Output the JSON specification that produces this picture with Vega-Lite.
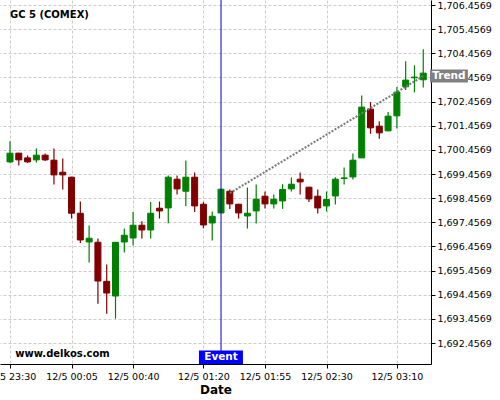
{
  "$schema": "https://vega.github.io/schema/vega-lite/v6.json",
  "width": 431,
  "height": 364,
  "autosize": {"type": "none"},
  "padding": {"left": 0, "top": 0, "right": 69, "bottom": 36},
  "background": "white",
  "config": {
    "view": {"stroke": null},
    "font": "DejaVu Sans",
    "axis": {
      "gridColor": "#cccccc",
      "gridDash": [3, 2],
      "gridWidth": 1,
      "domainColor": "#000000",
      "domainWidth": 1,
      "tickColor": "#000000",
      "labelColor": "#000000",
      "labelFont": "DejaVu Sans",
      "labelFontSize": 9.5,
      "titleFont": "DejaVu Sans"
    }
  },
  "datasets": {
    "candles": [
      {"t": "2024-12-04T23:30:00", "o": 1699.960, "h": 1700.818, "l": 1699.919, "c": 1700.321},
      {"t": "2024-12-04T23:35:00", "o": 1700.321, "h": 1700.342, "l": 1699.811, "c": 1700.043},
      {"t": "2024-12-04T23:40:00", "o": 1700.126, "h": 1700.225, "l": 1699.919, "c": 1699.960},
      {"t": "2024-12-04T23:45:00", "o": 1700.043, "h": 1700.516, "l": 1699.935, "c": 1700.238},
      {"t": "2024-12-04T23:50:00", "o": 1700.238, "h": 1700.308, "l": 1700.001, "c": 1700.043},
      {"t": "2024-12-04T23:55:00", "o": 1700.031, "h": 1700.516, "l": 1699.023, "c": 1699.421},
      {"t": "2024-12-05T00:00:00", "o": 1699.533, "h": 1700.101, "l": 1698.816, "c": 1699.421},
      {"t": "2024-12-05T00:05:00", "o": 1699.326, "h": 1699.347, "l": 1697.613, "c": 1697.833},
      {"t": "2024-12-05T00:10:00", "o": 1697.833, "h": 1698.318, "l": 1696.602, "c": 1696.726},
      {"t": "2024-12-05T00:15:00", "o": 1696.643, "h": 1697.323, "l": 1695.789, "c": 1696.797},
      {"t": "2024-12-05T00:20:00", "o": 1696.631, "h": 1696.784, "l": 1694.089, "c": 1695.026},
      {"t": "2024-12-05T00:25:00", "o": 1695.014, "h": 1695.706, "l": 1693.675, "c": 1694.529},
      {"t": "2024-12-05T00:30:00", "o": 1694.405, "h": 1696.631, "l": 1693.468, "c": 1696.631},
      {"t": "2024-12-05T00:35:00", "o": 1696.643, "h": 1697.199, "l": 1696.204, "c": 1696.921},
      {"t": "2024-12-05T00:40:00", "o": 1696.809, "h": 1697.887, "l": 1696.494, "c": 1697.336},
      {"t": "2024-12-05T00:45:00", "o": 1697.336, "h": 1697.502, "l": 1696.784, "c": 1697.141},
      {"t": "2024-12-05T00:50:00", "o": 1697.141, "h": 1698.302, "l": 1696.784, "c": 1697.833},
      {"t": "2024-12-05T00:55:00", "o": 1698.041, "h": 1698.318, "l": 1697.613, "c": 1697.929},
      {"t": "2024-12-05T01:00:00", "o": 1698.053, "h": 1699.396, "l": 1697.419, "c": 1699.326},
      {"t": "2024-12-05T01:05:00", "o": 1699.243, "h": 1699.396, "l": 1698.609, "c": 1698.841},
      {"t": "2024-12-05T01:10:00", "o": 1698.745, "h": 1700.018, "l": 1698.123, "c": 1699.326},
      {"t": "2024-12-05T01:15:00", "o": 1699.326, "h": 1699.521, "l": 1697.887, "c": 1698.136},
      {"t": "2024-12-05T01:20:00", "o": 1698.206, "h": 1698.302, "l": 1697.211, "c": 1697.348},
      {"t": "2024-12-05T01:25:00", "o": 1697.431, "h": 1697.904, "l": 1696.701, "c": 1697.709},
      {"t": "2024-12-05T01:30:00", "o": 1697.846, "h": 1698.849, "l": 1697.833, "c": 1698.828},
      {"t": "2024-12-05T01:35:00", "o": 1698.745, "h": 1698.816, "l": 1698.012, "c": 1698.219},
      {"t": "2024-12-05T01:40:00", "o": 1698.206, "h": 1698.227, "l": 1697.613, "c": 1697.846},
      {"t": "2024-12-05T01:45:00", "o": 1697.721, "h": 1698.899, "l": 1697.199, "c": 1697.833},
      {"t": "2024-12-05T01:50:00", "o": 1697.929, "h": 1699.023, "l": 1697.406, "c": 1698.414},
      {"t": "2024-12-05T01:55:00", "o": 1698.538, "h": 1698.733, "l": 1698.028, "c": 1698.219},
      {"t": "2024-12-05T02:00:00", "o": 1698.219, "h": 1698.609, "l": 1698.028, "c": 1698.414},
      {"t": "2024-12-05T02:05:00", "o": 1698.343, "h": 1699.036, "l": 1698.012, "c": 1698.816},
      {"t": "2024-12-05T02:10:00", "o": 1698.841, "h": 1699.313, "l": 1698.733, "c": 1699.036},
      {"t": "2024-12-05T02:15:00", "o": 1699.243, "h": 1699.521, "l": 1698.609, "c": 1699.131},
      {"t": "2024-12-05T02:20:00", "o": 1698.911, "h": 1698.932, "l": 1698.302, "c": 1698.426},
      {"t": "2024-12-05T02:25:00", "o": 1698.538, "h": 1698.816, "l": 1697.821, "c": 1698.053},
      {"t": "2024-12-05T02:30:00", "o": 1698.136, "h": 1698.733, "l": 1697.904, "c": 1698.401},
      {"t": "2024-12-05T02:35:00", "o": 1698.550, "h": 1699.326, "l": 1698.194, "c": 1699.243},
      {"t": "2024-12-05T02:40:00", "o": 1699.272, "h": 1699.728, "l": 1699.023, "c": 1699.297},
      {"t": "2024-12-05T02:45:00", "o": 1699.338, "h": 1700.308, "l": 1699.230, "c": 1700.031},
      {"t": "2024-12-05T02:50:00", "o": 1700.126, "h": 1702.713, "l": 1700.126, "c": 1702.228},
      {"t": "2024-12-05T02:55:00", "o": 1702.145, "h": 1702.435, "l": 1701.121, "c": 1701.370},
      {"t": "2024-12-05T03:00:00", "o": 1701.440, "h": 1701.647, "l": 1700.914, "c": 1701.162},
      {"t": "2024-12-05T03:05:00", "o": 1701.245, "h": 1702.021, "l": 1701.225, "c": 1701.855},
      {"t": "2024-12-05T03:10:00", "o": 1701.867, "h": 1703.057, "l": 1701.345, "c": 1702.850},
      {"t": "2024-12-05T03:15:00", "o": 1703.070, "h": 1704.123, "l": 1702.933, "c": 1703.347},
      {"t": "2024-12-05T03:20:00", "o": 1703.443, "h": 1703.957, "l": 1702.837, "c": 1703.472},
      {"t": "2024-12-05T03:25:00", "o": 1703.360, "h": 1704.620, "l": 1703.045, "c": 1703.637}
    ],
    "trend": [
      {"t": "2024-12-05T01:35:00", "v": 1698.663},
      {"t": "2024-12-05T03:25:00", "v": 1703.513}
    ],
    "event": [
      {"t": "2024-12-05T01:30:00", "label": "Event", "t0": "2024-12-05T01:17:27", "t1": "2024-12-05T01:42:28", "v": 1691.863, "v0": 1691.59, "v1": 1692.154}
    ],
    "trendlabel": [
      {"t": "2024-12-05T03:39:36", "label": "Trend", "t0": "2024-12-05T03:28:48", "t1": "2024-12-05T03:50:24", "v": 1703.522, "v0": 1703.252, "v1": 1703.791}
    ],
    "notes": [
      {"t": "2024-12-04T23:30:00", "v": 1706.042, "label": "GC 5 (COMEX)"},
      {"t": "2024-12-04T23:33:00", "v": 1691.987, "label": "www.delkos.com"}
    ]
  },
  "layer": [
    {
      "data": {"name": "candles"},
      "mark": {"type": "rule", "strokeWidth": 1.2},
      "encoding": {
        "x": {
          "field": "t",
          "type": "temporal",
          "scale": {
            "nice": false,
            "padding": 0,
            "domain": [
              {"year": 2024, "month": 12, "date": 4, "hours": 23, "minutes": 24, "seconds": 19},
              {"year": 2024, "month": 12, "date": 5, "hours": 3, "minutes": 29, "seconds": 24}
            ]
          },
          "axis": {
            "title": "Date",
            "titleFontSize": 12,
            "titleFontWeight": "bold",
            "titleColor": "#000000",
            "titlePadding": 4,
            "tickCount": 20,
            "values": [
              {"year": 2024, "month": 12, "date": 4, "hours": 23, "minutes": 30},
              {"year": 2024, "month": 12, "date": 5, "hours": 0, "minutes": 5},
              {"year": 2024, "month": 12, "date": 5, "hours": 0, "minutes": 40},
              {"year": 2024, "month": 12, "date": 5, "hours": 1, "minutes": 20},
              {"year": 2024, "month": 12, "date": 5, "hours": 1, "minutes": 55},
              {"year": 2024, "month": 12, "date": 5, "hours": 2, "minutes": 30},
              {"year": 2024, "month": 12, "date": 5, "hours": 3, "minutes": 10}
            ],
            "format": "12/5 %H:%M",
            "labelOverlap": false,
            "labelFlush": false,
            "tickSize": 4,
            "labelPadding": 3,
            "grid": true
          }
        },
        "y": {
          "field": "l",
          "type": "quantitative",
          "scale": {"domain": [1691.59, 1706.664], "nice": false, "zero": false, "padding": 0},
          "axis": {
            "orient": "right",
            "title": null,
            "tickCount": 40,
            "labelOverlap": false,
            "values": [1692.4569, 1693.4569, 1694.4569, 1695.4569, 1696.4569, 1697.4569, 1698.4569, 1699.4569, 1700.4569, 1701.4569, 1702.4569, 1703.4569, 1704.4569, 1705.4569, 1706.4569],
            "format": ",.4f",
            "tickSize": 4,
            "labelPadding": 2,
            "grid": true
          }
        },
        "y2": {"field": "h"},
        "color": {"condition": {"test": "datum.c >= datum.o", "value": "#008000"}, "value": "#800000"}
      }
    },
    {
      "data": {"name": "candles"},
      "mark": {"type": "bar", "width": 6, "strokeWidth": 1},
      "encoding": {
        "x": {"field": "t", "type": "temporal"},
        "y": {"field": "o", "type": "quantitative"},
        "y2": {"field": "c"},
        "color": {"condition": {"test": "datum.c >= datum.o", "value": "#008000"}, "value": "#800000"},
        "stroke": {"condition": {"test": "datum.c >= datum.o", "value": "#008000"}, "value": "#800000"}
      }
    },
    {
      "data": {"name": "trend"},
      "mark": {"type": "line", "color": "#777777", "strokeWidth": 2, "strokeDash": [2, 1.5]},
      "encoding": {
        "x": {"field": "t", "type": "temporal"},
        "y": {"field": "v", "type": "quantitative"}
      }
    },
    {
      "data": {"name": "event"},
      "mark": {"type": "rule", "color": "#0000cc", "strokeWidth": 1},
      "encoding": {
        "x": {"field": "t", "type": "temporal"}
      }
    },
    {
      "data": {"name": "event"},
      "mark": {"type": "rect", "color": "#0000ff"},
      "encoding": {
        "x": {"field": "t0", "type": "temporal"},
        "x2": {"field": "t1"},
        "y": {"field": "v0", "type": "quantitative"},
        "y2": {"field": "v1"}
      }
    },
    {
      "data": {"name": "event"},
      "mark": {"type": "text", "color": "#ffffff", "fontWeight": "bold", "fontSize": 10.5, "align": "center", "baseline": "middle"},
      "encoding": {
        "x": {"field": "t", "type": "temporal"},
        "y": {"field": "v", "type": "quantitative"},
        "text": {"field": "label"}
      }
    },
    {
      "data": {"name": "trendlabel"},
      "mark": {"type": "rect", "color": "#808080", "clip": false},
      "encoding": {
        "x": {"field": "t0", "type": "temporal"},
        "x2": {"field": "t1"},
        "y": {"field": "v0", "type": "quantitative"},
        "y2": {"field": "v1"}
      }
    },
    {
      "data": {"name": "trendlabel"},
      "mark": {"type": "text", "color": "#ffffff", "fontWeight": "bold", "fontSize": 10.5, "align": "center", "baseline": "middle"},
      "encoding": {
        "x": {"field": "t", "type": "temporal"},
        "y": {"field": "v", "type": "quantitative"},
        "text": {"field": "label"}
      }
    },
    {
      "data": {"name": "notes"},
      "mark": {"type": "text", "color": "#000000", "fontWeight": "bold", "fontSize": 10, "align": "left", "baseline": "middle"},
      "encoding": {
        "x": {"field": "t", "type": "temporal"},
        "y": {"field": "v", "type": "quantitative"},
        "text": {"field": "label"}
      }
    }
  ]
}
